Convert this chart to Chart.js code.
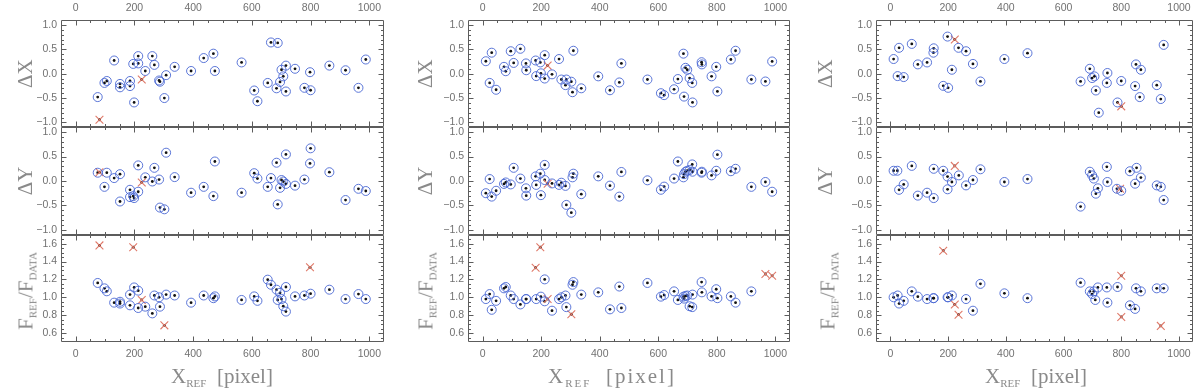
<!DOCTYPE html>
<html lang="en">
<head>
    <meta charset="UTF-8">
    <title>Reference star residuals</title>
    <style>
        body {
            margin: 0;
            background-color: #ffffff;
        }
        #wrap {
            position: relative;
            width: 1200px;
            height: 389px;
            overflow: hidden;
        }
        #wrap canvas {
            position: absolute;
            top: 0;
        }
        .ttl {
            position: absolute;
            font-family: "Liberation Serif", serif;
            color: #8a8a8a;
            white-space: nowrap;
            line-height: 1;
        }
        .ttl sub {
            font-size: 11px;
            vertical-align: -4px;
        }
        .xt {
            top: 366px;
            font-size: 21px;
            transform: translateX(-50%);
        }
        .yt {
            font-size: 21px;
            transform: translate(-50%, -50%) rotate(-90deg);
        }
    </style>
</head>
<body>
    <div id="wrap">
        <canvas id="col1" width="400" height="389" style="left:0px"></canvas>
        <canvas id="col2" width="400" height="389" style="left:400px"></canvas>
        <canvas id="col3" width="400" height="389" style="left:800px"></canvas>

        <div class="ttl yt" style="left:27px; top:291px">F<sub>REF</sub>/F<sub>DATA</sub></div>
        <div class="ttl yt" style="left:427px; top:291px">F<sub>REF</sub>/F<sub>DATA</sub></div>
        <div class="ttl yt" style="left:829px; top:291px">F<sub>REF</sub>/F<sub>DATA</sub></div>

        <div class="ttl xt" style="left:222px">X<sub>REF</sub>&nbsp;&nbsp;[pixel]</div>
        <div class="ttl xt" style="left:612px; letter-spacing:2px">X<sub>REF</sub>&nbsp;&nbsp;[pixel]</div>
        <div class="ttl xt" style="left:1036px">X<sub>REF</sub>&nbsp;&nbsp;[pixel]</div>
    </div>
    <script src="https://cdn.jsdelivr.net/npm/chart.js"></script>
    <script>
        // tick labels
        const xTickVals = [0, 200, 400, 600, 800, 1000];
        const dTickVals = [-1, -0.5, 0, 0.5, 1];
        const fTickVals = [0.6, 0.8, 1.0, 1.2, 1.4, 1.6];

        // column 1: [x_ref, value] for kept (circle) and rejected (cross) stars
        const c1DXGood = [[75,-0.48],[98,-0.19],[106,-0.15],[131,0.27],[151,-0.21],[151,-0.28],[185,-0.15],[185,-0.255],[196,0.2],[199,-0.59],[213,0.36],[213,0.21],[237,0.055],[261,0.36],[268,0.18],[284,-0.14],[287,-0.165],[302,-0.5],[308,-0.03],[337,0.14],[393,0.055],[436,0.32],[469,0.41],[474,0.055],[565,0.23],[608,-0.345],[619,-0.565],[654,-0.19],[665,0.64],[688,0.63],[684,-0.3],[696,-0.17],[701,0.08],[707,-0.055],[716,0.165],[716,-0.365],[747,0.1],[779,-0.29],[798,0.03],[800,-0.34],[864,0.165],[919,0.07],[963,-0.29],[988,0.29]];
        const c1DXBad = [[81,-0.945],[225,-0.12]];
        const c1DYGood = [[75,0.17],[98,-0.12],[106,0.17],[131,0.06],[151,0.14],[151,-0.42],[185,-0.18],[185,-0.33],[196,-0.31],[199,-0.35],[213,0.32],[213,-0.22],[237,0.075],[261,-0.01],[268,0.27],[284,0.03],[287,-0.545],[302,-0.58],[308,0.58],[337,0.08],[393,-0.24],[436,-0.12],[469,-0.31],[474,0.4],[565,-0.24],[608,0.16],[619,0.05],[654,-0.12],[665,0.06],[684,0.375],[688,-0.48],[696,-0.14],[701,0.02],[707,-0.01],[716,0.545],[716,-0.06],[747,-0.095],[779,0.03],[798,0.36],[800,0.67],[864,0.18],[919,-0.39],[963,-0.16],[988,-0.205]];
        const c1DYBad = [[81,0.18],[225,-0.03]];
        const c1FGood = [[75,1.16],[98,1.1],[106,1.067],[131,0.94],[151,0.93],[151,0.95],[185,1.03],[185,0.91],[199,1.11],[213,1.074],[213,0.88],[237,0.895],[261,0.82],[268,1.02],[284,1.0],[287,0.895],[308,1.03],[337,1.02],[393,0.94],[436,1.02],[469,0.99],[474,1.01],[565,0.97],[608,1.01],[619,0.96],[654,1.197],[665,1.14],[684,1.085],[688,0.97],[696,1.05],[701,0.98],[707,0.9],[716,1.115],[716,0.84],[747,1.01],[779,1.02],[800,1.04],[864,1.085],[919,0.98],[963,1.036],[988,0.98]];
        const c1FBad = [[81,1.58],[196,1.56],[225,0.97],[302,0.686],[798,1.335]];

        // column 2
        const c2DXGood = [[11,0.255],[24,-0.19],[31,0.43],[46,-0.33],[73,0.14],[79,0.05],[96,0.46],[106,0.22],[129,0.51],[148,0.21],[149,0.07],[181,0.27],[183,-0.05],[197,0.23],[199,0.007],[212,0.38],[212,-0.1],[237,-0.014],[261,0.3],[269,-0.12],[283,-0.235],[286,-0.12],[303,-0.165],[307,-0.38],[310,0.47],[337,-0.3],[395,-0.055],[435,-0.34],[467,-0.18],[474,0.21],[563,-0.12],[609,-0.4],[620,-0.44],[654,-0.32],[667,-0.11],[686,0.41],[688,-0.47],[693,0.12],[699,0.08],[707,-0.09],[716,-0.19],[717,-0.59],[748,0.235],[749,0.19],[782,-0.055],[798,0.14],[802,-0.365],[848,0.29],[864,0.47],[918,-0.12],[966,-0.16],[989,0.25]];
        const c2DXBad = [[222,0.165]];
        const c2DYGood = [[11,-0.25],[24,0.04],[31,-0.32],[46,-0.2],[73,-0.06],[79,-0.03],[96,-0.07],[106,0.27],[129,0.05],[148,-0.15],[149,-0.3],[181,0.095],[183,-0.08],[197,0.15],[199,-0.29],[212,0.33],[212,0.02],[237,-0.05],[261,-0.08],[269,-0.035],[283,-0.1],[286,-0.49],[303,-0.65],[307,0.075],[310,0.15],[337,-0.27],[395,0.095],[435,-0.095],[467,-0.32],[474,0.185],[563,0.014],[609,-0.18],[620,-0.115],[654,0.05],[667,0.4],[686,0.075],[688,0.14],[693,0.19],[699,0.21],[707,0.225],[716,0.34],[717,0.19],[748,0.17],[749,0.19],[782,0.115],[798,0.21],[802,0.54],[848,0.2],[864,0.25],[918,-0.12],[966,-0.02],[989,-0.22]];
        const c2DYBad = [[222,-0.055]];
        const c2FGood = [[11,0.98],[24,1.036],[31,0.86],[46,0.96],[73,1.1],[79,1.115],[96,1.02],[106,0.98],[129,0.92],[148,0.98],[149,0.98],[183,0.98],[199,1.007],[212,1.2],[212,0.955],[237,0.85],[261,0.98],[269,1.0],[283,1.02],[286,0.89],[307,1.14],[310,1.17],[337,1.03],[395,1.055],[435,0.865],[467,1.12],[474,0.88],[563,1.16],[609,1.007],[620,1.025],[654,1.066],[667,0.97],[686,1.007],[688,0.985],[693,1.014],[699,1.02],[707,0.9],[716,0.89],[717,1.03],[748,1.17],[749,1.055],[782,1.01],[798,1.09],[802,0.99],[848,1.01],[864,0.94],[918,1.066]];
        const c2FBad = [[181,1.33],[197,1.56],[222,0.98],[303,0.81],[966,1.26],[989,1.24]];

        // column 3
        const c3DXGood = [[11,0.3],[25,-0.05],[30,0.53],[46,-0.07],[74,0.61],[95,0.19],[127,0.23],[150,0.52],[149,0.43],[183,-0.25],[198,0.76],[200,-0.29],[213,0.08],[236,0.53],[262,0.46],[286,0.2],[312,-0.16],[395,0.3],[475,0.42],[659,-0.16],[691,0.1],[699,-0.09],[707,-0.055],[712,-0.345],[722,-0.8],[750,-0.19],[752,0.014],[787,-0.59],[800,-0.15],[848,-0.255],[851,0.19],[864,-0.48],[868,0.08],[923,-0.235],[937,-0.52],[947,0.59]];
        const c3DXBad = [[223,0.7],[800,-0.67]];
        const c3DYGood = [[11,0.21],[24,0.21],[30,-0.18],[46,-0.07],[74,0.31],[95,-0.3],[127,-0.24],[150,0.25],[150,-0.35],[183,0.21],[198,0.09],[198,-0.17],[213,-0.02],[237,0.115],[262,-0.09],[286,0.02],[312,0.24],[395,-0.02],[475,0.04],[659,-0.525],[691,0.19],[699,0.115],[705,0.05],[712,-0.26],[719,-0.15],[750,0.29],[752,-0.02],[785,-0.16],[800,-0.2],[830,0.2],[848,-0.055],[853,0.27],[868,0.07],[923,-0.09],[937,-0.12],[947,-0.39]];
        const c3DYBad = [[223,0.31],[796,-0.16]];
        const c3FGood = [[11,1.0],[25,1.02],[30,0.93],[46,0.96],[74,1.066],[95,1.007],[127,0.98],[149,0.99],[150,0.99],[198,1.0],[200,1.0],[213,1.02],[262,0.98],[286,0.85],[312,1.15],[395,1.044],[475,0.99],[659,1.163],[691,1.066],[699,1.036],[705,1.066],[710,0.97],[719,1.11],[750,1.11],[752,0.94],[787,1.115],[830,0.91],[848,0.87],[851,1.1],[868,1.066],[923,1.1],[947,1.1]];
        const c3FBad = [[183,1.52],[223,0.92],[236,0.805],[800,1.24],[800,0.78],[937,0.68]];

        const tickFont = { family: 'Liberation Sans', size: 10.5 };
        const tickColor = '#717171';
        const titleColor = '#8a8a8a';

        function fmtD(v) {
            return (v < 0 ? '\u2212' : '') + Math.abs(v).toFixed(1);
        }

        function toXY(list) {
            return list.map(p => ({ x: p[0], y: p[1] }));
        }

        // frame around each panel plus inward major/minor ticks on all four sides
        function framePlugin(panels) {
            return {
                id: 'frame',
                afterDatasetsDraw(chart) {
                    const ctx = chart.ctx;
                    const area = chart.chartArea;
                    const xs = chart.scales.x;
                    const L = Math.round(area.left) + 0.5;
                    const R = Math.round(area.right) - 0.5;
                    ctx.save();
                    ctx.strokeStyle = '#5c5c5c';
                    ctx.lineWidth = 1;
                    ctx.beginPath();
                    panels.forEach(p => {
                        const ys = chart.scales[p.id];
                        const T = Math.round(ys.top) + 0.5;
                        const B = Math.round(ys.bottom) - 0.5;
                        ctx.rect(L, T, R - L, B - T);
                        for (let k = -1; k <= 21; k++) {
                            const v = k * 50;
                            const px = Math.round(xs.getPixelForValue(v)) + 0.5;
                            if (px <= L + 1 || px >= R - 1) continue;
                            const len = v % 200 === 0 ? 5 : 2.5;
                            ctx.moveTo(px, T); ctx.lineTo(px, T + len);
                            ctx.moveTo(px, B); ctx.lineTo(px, B - len);
                        }
                        const k0 = Math.ceil(p.min / p.minor - 1e-6);
                        const k1 = Math.floor(p.max / p.minor + 1e-6);
                        for (let k = k0; k <= k1; k++) {
                            const v = k * p.minor;
                            const py = Math.round(ys.getPixelForValue(v)) + 0.5;
                            if (py <= T + 1 || py >= B - 1) continue;
                            const major = p.ticks.some(t => Math.abs(t - v) < 1e-6);
                            const len = major ? 5 : 2.5;
                            ctx.moveTo(L, py); ctx.lineTo(L + len, py);
                            ctx.moveTo(R, py); ctx.lineTo(R - len, py);
                        }
                    });
                    ctx.stroke();
                    ctx.restore();
                }
            };
        }

        function panelSets(p) {
            return [
                {
                    data: toXY(p.good), xAxisID: 'x', yAxisID: p.id,
                    pointStyle: 'circle', pointRadius: 4.5, pointBorderWidth: 0.9,
                    pointBorderColor: '#4a68d4', pointBackgroundColor: 'rgba(0,0,0,0)'
                },
                {
                    data: toXY(p.bad), xAxisID: 'x', yAxisID: p.id,
                    pointStyle: 'crossRot', pointRadius: 5.5, pointBorderWidth: 1.1,
                    pointBorderColor: '#e07a6a', pointBackgroundColor: 'rgba(0,0,0,0)'
                },
                {
                    data: toXY(p.good.concat(p.bad)), xAxisID: 'x', yAxisID: p.id,
                    pointStyle: 'circle', pointRadius: 1.4, pointBorderWidth: 0,
                    pointBackgroundColor: '#111111'
                }
            ];
        }

        function xAxis(position, height) {
            return {
                type: 'linear', position: position, min: -50, max: 1050,
                grid: { display: false, drawTicks: false, tickLength: 0 },
                border: { display: false },
                afterBuildTicks: s => { s.ticks = xTickVals.map(v => ({ value: v })); },
                afterFit: s => { s.height = height; },
                ticks: {
                    color: tickColor, font: tickFont, padding: 6, maxRotation: 0, autoSkip: false,
                    callback: v => String(v)
                }
            };
        }

        function makeColumn(canvasId, yWidth, rightPad, dx, dy, fr) {
            const panels = [
                { id: 'yDX', title: '\u0394X', min: -1.1, max: 1.1, ticks: dTickVals, minor: 0.1, good: dx[0], bad: dx[1], fmt: fmtD },
                { id: 'yDY', title: '\u0394Y', min: -1.1, max: 1.1, ticks: dTickVals, minor: 0.1, good: dy[0], bad: dy[1], fmt: fmtD },
                { id: 'yF', title: '', min: 0.5, max: 1.7, ticks: fTickVals, minor: 0.05, good: fr[0], bad: fr[1], fmt: v => v.toFixed(1) }
            ];

            const scales = { x: xAxis('bottom', 47), xTop: xAxis('top', 20) };
            // stacked left axes are placed top-down in reverse order of definition
            panels.slice().reverse().forEach(p => {
                scales[p.id] = {
                    type: 'linear', position: 'left', stack: 'panels', stackWeight: 1, offset: false,
                    min: p.min, max: p.max,
                    grid: { display: false, drawTicks: false, tickLength: 0 },
                    border: { display: false },
                    afterBuildTicks: s => { s.ticks = p.ticks.map(v => ({ value: v })); },
                    afterFit: s => { s.width = yWidth; },
                    ticks: { color: tickColor, font: tickFont, padding: 4, autoSkip: false, callback: v => p.fmt(v) },
                    title: {
                        display: p.title !== '', text: p.title, color: titleColor,
                        font: { family: 'Liberation Serif', size: 21 },
                        padding: { top: 14, bottom: 0 }
                    }
                };
            });

            let datasets = [];
            panels.forEach(p => { datasets = datasets.concat(panelSets(p)); });

            return new Chart(document.getElementById(canvasId), {
                type: 'scatter',
                data: { datasets: datasets },
                options: {
                    responsive: false,
                    animation: false,
                    events: [],
                    layout: { padding: { left: 0, top: 0, bottom: 0, right: rightPad } },
                    plugins: { legend: { display: false }, tooltip: { enabled: false } },
                    scales: scales
                },
                plugins: [framePlugin(panels)]
            });
        }

        makeColumn('col1', 61, 16, [c1DXGood, c1DXBad], [c1DYGood, c1DYBad], [c1FGood, c1FBad]);
        makeColumn('col2', 68, 10, [c2DXGood, c2DXBad], [c2DYGood, c2DYBad], [c2FGood, c2FBad]);
        makeColumn('col3', 76, 4, [c3DXGood, c3DXBad], [c3DYGood, c3DYBad], [c3FGood, c3FBad]);
    </script>
</body>
</html>
